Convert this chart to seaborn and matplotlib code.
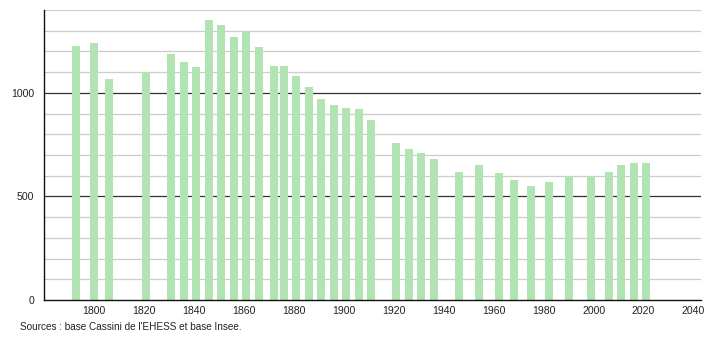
import matplotlib
matplotlib.use("Agg")
import matplotlib.pyplot as plt
import seaborn as sns
import pandas as pd

years = [1793, 1800, 1806, 1821, 1831, 1836, 1841, 1846, 1851, 1856, 1861, 1866,
         1872, 1876, 1881, 1886, 1891, 1896, 1901, 1906, 1911, 1921, 1926, 1931,
         1936, 1946, 1954, 1962, 1968, 1975, 1982, 1990, 1999, 2006, 2011, 2016, 2021]
population = [1227, 1241, 1068, 1103, 1188, 1147, 1126, 1353, 1330, 1271, 1298, 1219,
              1130, 1130, 1082, 1027, 971, 942, 929, 923, 870, 757, 729, 710,
              680, 620, 652, 615, 580, 551, 570, 597, 597, 618, 652, 662, 662]
x_ticks = [1800, 1820, 1840, 1860, 1880, 1900, 1920, 1940, 1960, 1980, 2000, 2020, 2040]
y_ticks = [0, 500, 1000]
source = "Sources : base Cassini de l'EHESS et base Insee."

df = pd.DataFrame({"year": years, "pop": population})

sns.set_style("white")
plt.rcParams["font.family"] = ["Liberation Sans", "DejaVu Sans"]

fig = plt.figure(figsize=(7.1, 3.4), dpi=100)
ax = fig.add_axes([44 / 710, 40 / 340, (701 - 44) / 710, 290 / 340])

# grid lines
for v in range(100, 1500, 100):
    if v % 500 == 0:
        ax.axhline(v, color="#333333", lw=0.9, zorder=1)
    else:
        ax.axhline(v, color="#cccccc", lw=0.9, zorder=1)

sns.barplot(data=df, x="year", y="pop", native_scale=True, width=0.8,
            color="#b2e3b2", saturation=1, edgecolor="none", ax=ax, zorder=2,
            errorbar=None)

ax.set_xlim(1780, 2043)
ax.set_ylim(0, 1400)
ax.set_xticks(x_ticks)
ax.set_xticklabels([str(t) for t in x_ticks])
ax.set_yticks(y_ticks)
ax.set_yticklabels([str(t) for t in y_ticks])
ax.set_yticks(range(0, 1500, 100), minor=True)
ax.tick_params(axis="x", length=0, labelsize=7.6, pad=4, colors="#222222")
ax.tick_params(axis="y", which="major", length=4, width=0.8, labelsize=7.6, pad=3, colors="#222222")
ax.tick_params(axis="y", which="minor", length=4, width=0.8, color="#222222")
ax.set_xlabel("")
ax.set_ylabel("")
for s in ["top", "right"]:
    ax.spines[s].set_visible(False)
for s in ["left", "bottom"]:
    ax.spines[s].set_color("#111111")
    ax.spines[s].set_linewidth(1.0)

fig.text(20 / 710, 1 - 327 / 340, source, fontsize=7.2, color="#222222",
         ha="left", va="center")

fig.savefig("out.png", dpi=100)
